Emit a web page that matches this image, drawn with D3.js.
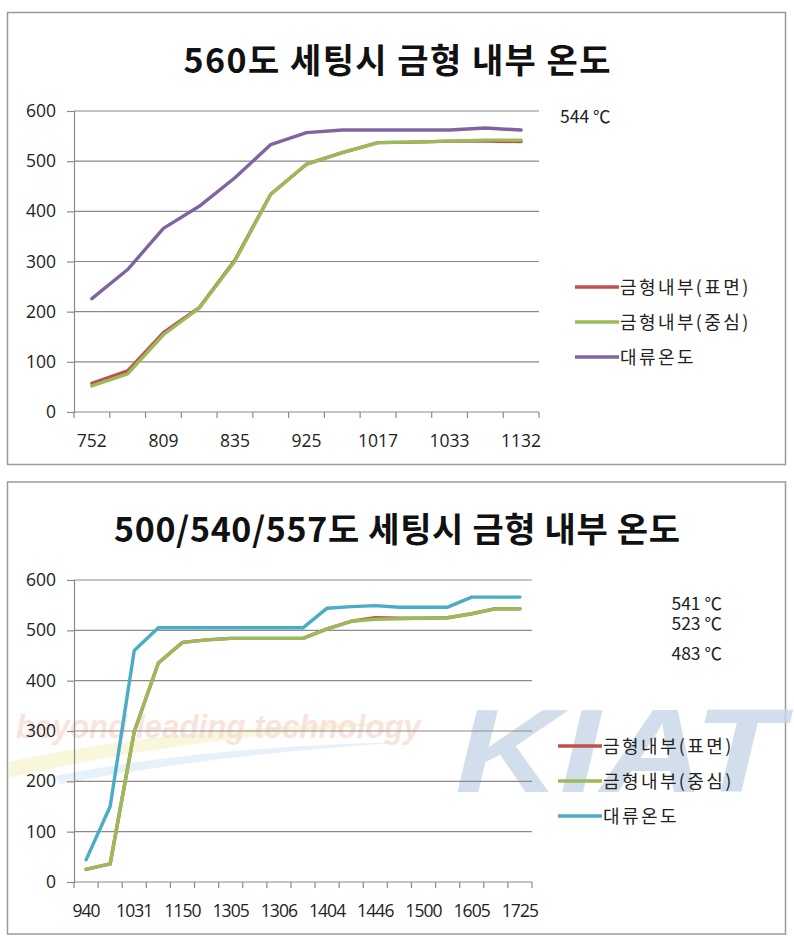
<!DOCTYPE html>
<html><head><meta charset="utf-8">
<script src="https://cdn.jsdelivr.net/npm/d3@7"></script>
<style>html,body{margin:0;padding:0;background:#fff;}svg{display:block;}</style>
</head><body>
<svg id="c" width="794" height="941"></svg>
<script>
// ---- Data ----
const seriesNames = ["금형내부(표면)", "금형내부(중심)", "대류온도"];
const yTicks = [0, 100, 200, 300, 400, 500, 600];

const topTitle = "560도 세팅시 금형 내부 온도";
const topCategories = ["752","","809","","835","","925","","1017","","1033","","1132"];
const topSurface = [57, 82, 158, 208, 303, 434, 494, 517, 537, 538, 540, 540, 539];
const topCenter  = [52, 76, 154, 207, 301, 434, 494, 517, 537, 538, 540, 542, 542];
const topConv    = [226, 284, 366, 410, 467, 533, 557, 562, 562, 562, 562, 566, 562];
const topNotes = ["544 ℃"];

const botTitle = "500/540/557도 세팅시 금형 내부 온도";
const botCategories = ["940","","1031","","1150","","1305","","1306","","1404","","1446","","1500","","1605","","1725"];
const botSurface = [25, 36, 299, 435, 476, 481, 484, 484, 484, 484, 503, 518, 525, 524, 524, 525, 533, 543, 543];
const botCenter  = [25, 36, 299, 435, 476, 481, 484, 484, 484, 484, 503, 518, 522, 523, 524, 525, 533, 543, 543];
const botConv    = [44, 150, 460, 505, 505, 505, 505, 505, 505, 505, 544, 547, 549, 546, 546, 546, 566, 566, 566];
const botNotes = ["541 ℃", "523 ℃", "483 ℃"];

const colors = ["#C0504D", "#9BBB59", "#8064A2"];
const colorsBot = ["#C0504D", "#9BBB59", "#4BACC6"];

const svg = d3.select("#c");
const FONT = "'Noto Sans CJK KR', 'Noto Sans', sans-serif";
const LFONT = "'Open Sans', 'Noto Sans', sans-serif";

function drawChart(cfg) {
  const g = svg.append("g");
  g.append("rect").attr("x", cfg.frame[0]).attr("y", cfg.frame[1])
    .attr("width", cfg.frame[2]).attr("height", cfg.frame[3])
    .attr("fill", "#fff").attr("stroke", "#9a9a9a").attr("stroke-width", 1.5);

  if (cfg.watermark) cfg.watermark(g);

  g.append("text").attr("x", cfg.titleX).attr("y", cfg.titleY)
    .attr("text-anchor", "middle").attr("font-family", FONT)
    .attr("font-weight", "bold").attr("font-size", 34).attr("fill", "#111")
    .attr("textLength", cfg.titleLen).attr("lengthAdjust", "spacing")
    .text(cfg.title);

  const x = d3.scaleBand().domain(d3.range(cfg.categories.length))
    .range([cfg.x0, cfg.x1]).paddingInner(0).paddingOuter(0);
  const y = d3.scaleLinear().domain([0, 600]).range([cfg.y0, cfg.y1]);

  g.append("g").selectAll("line").data(yTicks.filter(d => d > 0)).join("line")
    .attr("x1", cfg.x0).attr("x2", cfg.x1)
    .attr("y1", d => y(d)).attr("y2", d => y(d))
    .attr("stroke", "#8a8a8a").attr("stroke-width", 1.2);

  const ya = g.append("g").attr("transform", `translate(${cfg.x0},0)`)
    .call(d3.axisLeft(y).tickValues(yTicks).tickSize(7).tickPadding(11).tickFormat(d3.format("d")));
  ya.select(".domain").attr("stroke", "#8a8a8a").attr("stroke-width", 1.2);
  ya.selectAll(".tick line").attr("stroke", "#8a8a8a").attr("stroke-width", 1.2);
  ya.selectAll("text").attr("font-family", LFONT).attr("font-size", 17.5).attr("fill", "#222");

  const bounds = d3.range(cfg.categories.length + 1).map(i => cfg.x0 + i * x.bandwidth());
  const xg = g.append("g");
  xg.append("line").attr("x1", cfg.x0).attr("x2", cfg.x1).attr("y1", cfg.y0).attr("y2", cfg.y0)
    .attr("stroke", "#8a8a8a").attr("stroke-width", 1.2);
  xg.selectAll("line.t").data(bounds).join("line").attr("class", "t")
    .attr("x1", d => d).attr("x2", d => d).attr("y1", cfg.y0).attr("y2", cfg.y0 + 6)
    .attr("stroke", "#8a8a8a").attr("stroke-width", 1.2);
  xg.selectAll("text").data(cfg.categories).join("text")
    .attr("x", (d, i) => x(i) + x.bandwidth() / 2).attr("y", cfg.y0 + 35)
    .attr("text-anchor", "middle").attr("font-family", LFONT).attr("font-size", 17.5)
    .attr("letter-spacing", cfg.xSpacing).attr("fill", "#222").text(d => d);

  const line = d3.line().x((d, i) => x(i) + x.bandwidth() / 2).y(d => y(d));
  cfg.series.forEach((s, k) => {
    g.append("path").datum(s).attr("d", line).attr("fill", "none")
      .attr("stroke", cfg.colors[k]).attr("stroke-width", 3.4)
      .attr("stroke-linejoin", "round").attr("stroke-linecap", "round");
  });

  seriesNames.forEach((n, k) => {
    const ly = cfg.legY + k * cfg.legGap;
    g.append("line").attr("x1", cfg.legX).attr("x2", cfg.legX + 44).attr("y1", ly).attr("y2", ly)
      .attr("stroke", cfg.colors[k]).attr("stroke-width", 3.4);
    g.append("text").attr("x", cfg.legX + 45).attr("y", ly + 7)
      .attr("font-family", FONT).attr("font-size", 18).attr("letter-spacing", 2.4)
      .attr("fill", "#222").text(n);
  });

  cfg.notes.forEach((t, k) => {
    g.append("text").attr("x", cfg.noteX).attr("y", cfg.noteY[k])
      .attr("text-anchor", cfg.noteAnchor)
      .attr("font-family", FONT).attr("font-size", 17.5).attr("fill", "#222").text(t);
  });
}

drawChart({
  frame: [7.5, 12.5, 778, 452], title: topTitle, titleX: 397, titleY: 73, titleLen: 427,
  categories: topCategories, x0: 74, x1: 539, y0: 412, y1: 111,
  xSpacing: 0,
  series: [topSurface, topCenter, topConv], colors: colors,
  legX: 575, legY: 287, legGap: 35,
  notes: topNotes, noteX: 560, noteY: [123], noteAnchor: "start"
});

drawChart({
  frame: [7.5, 482, 778, 452], title: botTitle, titleX: 397, titleY: 542, titleLen: 566,
  categories: botCategories, x0: 74, x1: 532, y0: 882, y1: 580,
  xSpacing: -0.9,
  series: [botSurface, botCenter, botConv], colors: colorsBot,
  legX: 558, legY: 746, legGap: 35,
  notes: botNotes, noteX: 722, noteY: [610, 630, 660], noteAnchor: "end",
  watermark: function(g) {
    g.append("path").attr("d", "M8,762 C120,737 260,724 420,722 C300,730 150,745 8,778 Z")
      .attr("fill", "#f3f0b8").attr("opacity", 0.5);
    g.append("path").attr("d", "M55,776 C170,753 300,744 410,742 C300,749 180,761 60,784 Z")
      .attr("fill", "#d3e5f4").attr("opacity", 0.55);
    g.append("text").attr("x", 16).attr("y", 738)
      .attr("font-family", "'Liberation Sans Narrow', 'Liberation Sans', sans-serif").attr("font-style", "italic")
      .attr("font-weight", "bold").attr("font-size", 34).attr("fill", "#f8dcd2").attr("opacity", 0.75)
      .attr("textLength", 405).attr("lengthAdjust", "spacingAndGlyphs")
      .text("beyond leading technology");
    g.append("text").attr("x", 455).attr("y", 792)
      .attr("font-family", "'Liberation Sans', sans-serif").attr("font-style", "italic")
      .attr("font-weight", "bold").attr("font-size", 118).attr("fill", "#c9d7e8").attr("opacity", 0.8)
      .attr("textLength", 328).attr("lengthAdjust", "spacingAndGlyphs")
      .text("KIAT");
  }
});
</script>
</body></html>
